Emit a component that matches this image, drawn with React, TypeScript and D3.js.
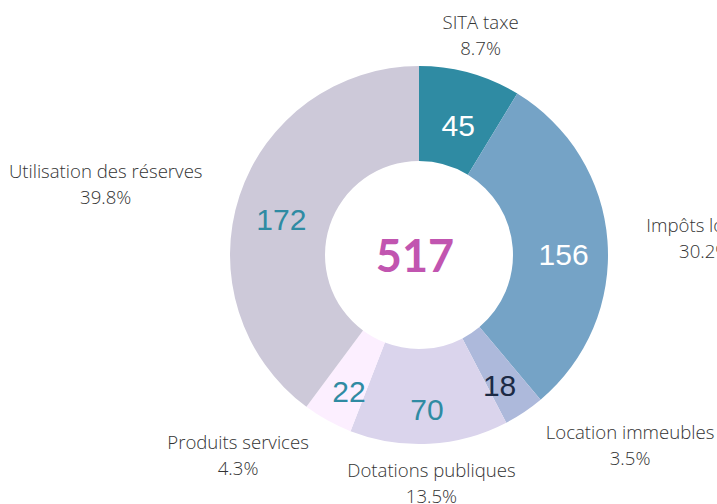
import React from "react";
import * as d3 from "d3";

const categories = ["SITA taxe", "Impôts locaux", "Location immeubles", "Dotations publiques", "Produits services", "Utilisation des réserves"];
const values = [45, 156, 18, 70, 22, 206];
const shownValues = [45, 156, 18, 70, 22, 172];
const colors = ["#2f8ba3", "#75a3c6", "#adb9db", "#dad4ec", "#fcefff", "#cdc9d9"];
const valueColors = ["#ffffff", "#ffffff", "#1c2a44", "#2f8ba3", "#2f8ba3", "#2f8ba3"];

const W = 717;
const H = 504;
const cx = 419;
const cy = 255;
const outerR = 189;
const innerR = 94;
const labelR = 228;
const valueR = 145;
const labelFont = "300 18.6px 'Open Sans'";

let ctx: CanvasRenderingContext2D | null = null;
function measure(t: string): number {
  if (!ctx) ctx = document.createElement("canvas").getContext("2d");
  if (!ctx) return t.length * 9;
  ctx.font = labelFont;
  return ctx.measureText(t).width;
}

export default function App() {
  const total = d3.sum(values);
  const pie = d3.pie<number>().sort(null).value((d) => d);
  const arcs = pie(values);
  const arc = d3.arc<d3.PieArcDatum<number>>().innerRadius(innerR).outerRadius(outerR);

  return (
    <svg width={W} height={H} style={{ position: "absolute", left: 0, top: 0 }}>
      <g transform={`translate(${cx},${cy})`}>
        {arcs.map((a, i) => (
          <path key={i} d={arc(a) || ""} fill={colors[i]} />
        ))}
        {arcs.map((a, i) => {
          const m = (a.startAngle + a.endAngle) / 2;
          const x = valueR * Math.sin(m);
          const y = -valueR * Math.cos(m) + 10;
          return (
            <text key={"v" + i} x={x} y={y} textAnchor="middle" dominantBaseline="central"
              fontFamily="'Liberation Sans', Arial, sans-serif" fontSize={30} fill={valueColors[i]}>
              {shownValues[i]}
            </text>
          );
        })}
        {arcs.map((a, i) => {
          const m = (a.startAngle + a.endAngle) / 2;
          const s = Math.sin(m);
          const px = labelR * s;
          const y = -labelR * Math.cos(m) - 6;
          const pct = ((values[i] / total) * 100).toFixed(1) + "%";
          const w = Math.max(measure(categories[i]), measure(pct));
          const x = Math.abs(s) < 0.3 ? px : s > 0 ? px + w / 2 : px - w / 2;
          return (
            <text key={"l" + i} textAnchor="middle"
              fontFamily="'Open Sans', sans-serif" fontWeight={300} fontSize={18.6} fill="#333333">
              <tspan x={x} y={y}>{categories[i]}</tspan>
              <tspan x={x} y={y + 26}>{pct}</tspan>
            </text>
          );
        })}
        <text x={-4} y={0} textAnchor="middle" dominantBaseline="central"
          fontFamily="Lato, sans-serif" fontWeight={700} fontSize={45} fill="#c155b0">
          {total}
        </text>
      </g>
    </svg>
  );
}
